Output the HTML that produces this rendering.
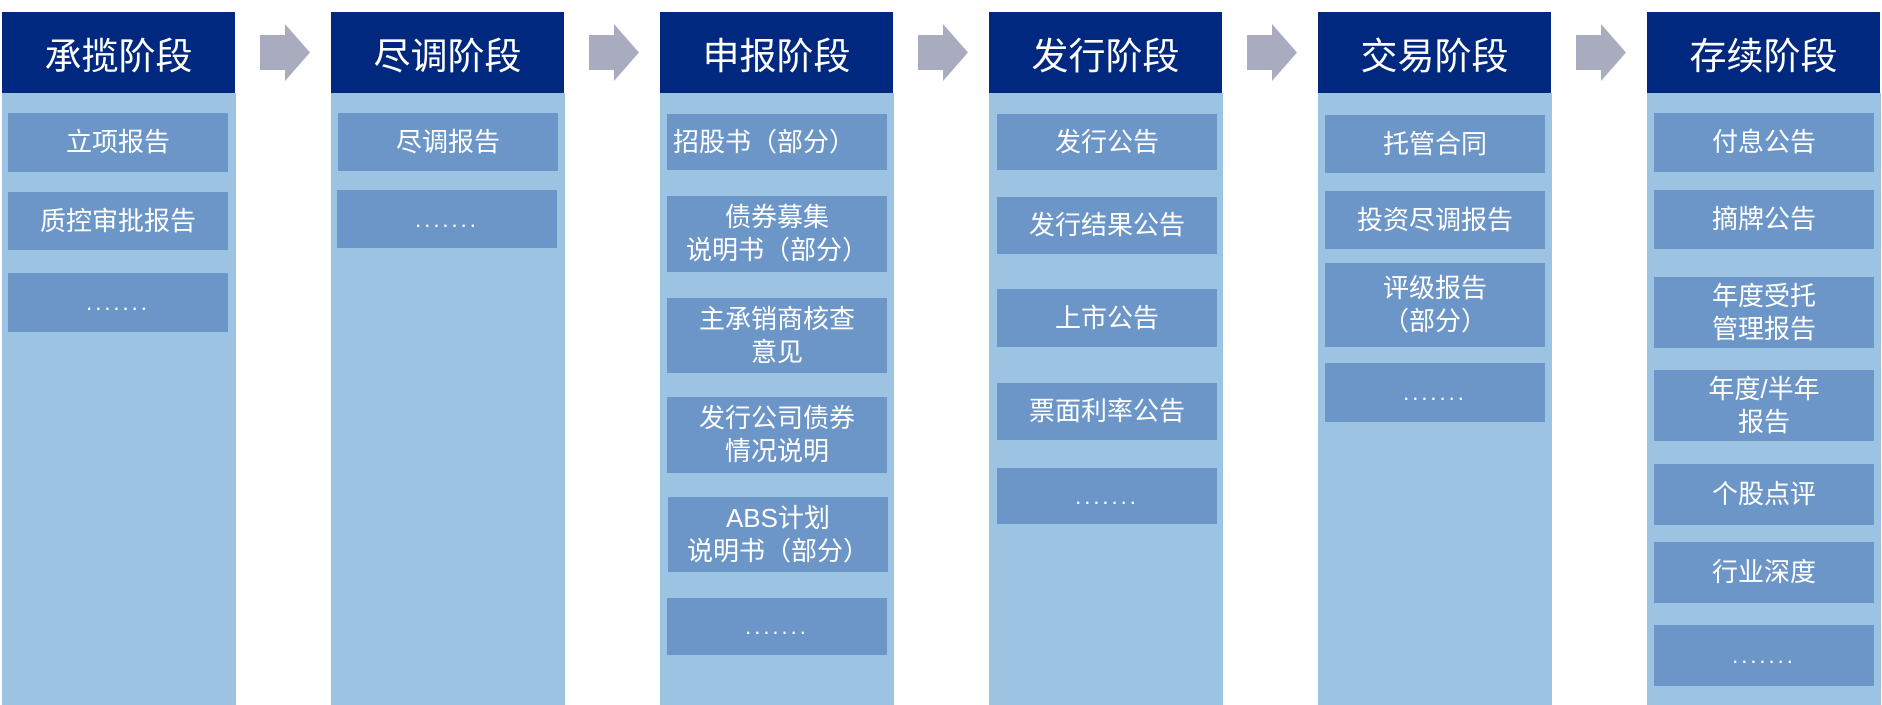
<!DOCTYPE html>
<html><head><meta charset="utf-8"><style>
body{margin:0;width:1882px;height:705px;background:#fff;position:relative;overflow:hidden;font-family:"Liberation Sans","Noto Sans CJK SC",sans-serif;}
.h{position:absolute;top:12px;height:81px;width:233px;background:#00287f;color:#fff;font-size:37px;display:flex;align-items:center;justify-content:center;}
.c{position:absolute;top:93px;height:612px;width:234px;background:#9dc3e3;}
.b{position:absolute;width:220px;background:#6d96c8;color:#fff;font-size:26px;line-height:33px;display:flex;align-items:center;justify-content:center;text-align:center;}
.d{letter-spacing:3px;font-size:22px;}
.a{position:absolute;top:24px;width:50px;height:57px;}
</style></head><body>
<div class="c" style="left:2px"></div><div class="h" style="left:2px">承揽阶段</div>
<div class="c" style="left:331px"></div><div class="h" style="left:331px">尽调阶段</div>
<div class="c" style="left:660px"></div><div class="h" style="left:660px">申报阶段</div>
<div class="c" style="left:989px"></div><div class="h" style="left:989px">发行阶段</div>
<div class="c" style="left:1318px"></div><div class="h" style="left:1318px">交易阶段</div>
<div class="c" style="left:1647px"></div><div class="h" style="left:1647px">存续阶段</div>

<svg class="a" style="left:260px" viewBox="0 0 50 57"><polygon points="0,11 25,11 25,0 50,28.5 25,57 25,46 0,46" fill="#a9abbe"/></svg>
<svg class="a" style="left:589px" viewBox="0 0 50 57"><polygon points="0,11 25,11 25,0 50,28.5 25,57 25,46 0,46" fill="#a9abbe"/></svg>
<svg class="a" style="left:918px" viewBox="0 0 50 57"><polygon points="0,11 25,11 25,0 50,28.5 25,57 25,46 0,46" fill="#a9abbe"/></svg>
<svg class="a" style="left:1247px" viewBox="0 0 50 57"><polygon points="0,11 25,11 25,0 50,28.5 25,57 25,46 0,46" fill="#a9abbe"/></svg>
<svg class="a" style="left:1576px" viewBox="0 0 50 57"><polygon points="0,11 25,11 25,0 50,28.5 25,57 25,46 0,46" fill="#a9abbe"/></svg>

<div class="b" style="left:8px;top:113px;height:59px">立项报告</div>
<div class="b" style="left:8px;top:192px;height:58px">质控审批报告</div>
<div class="b d" style="left:8px;top:273px;height:59px">.......</div>
<div class="b" style="left:338px;top:113px;height:58px">尽调报告</div>
<div class="b d" style="left:337px;top:190px;height:58px">.......</div>
<div class="b" style="left:667px;top:114px;height:56px;justify-content:flex-start;padding-left:6px;width:214px">招股书（部分）</div>
<div class="b" style="left:667px;top:196px;height:76px">债券募集<br>说明书（部分）</div>
<div class="b" style="left:667px;top:298px;height:75px">主承销商核查<br>意见</div>
<div class="b" style="left:667px;top:397px;height:76px">发行公司债券<br>情况说明</div>
<div class="b" style="left:668px;top:497px;height:75px">ABS计划<br>说明书（部分）</div>
<div class="b d" style="left:667px;top:598px;height:57px">.......</div>
<div class="b" style="left:997px;top:114px;height:56px">发行公告</div>
<div class="b" style="left:997px;top:197px;height:57px">发行结果公告</div>
<div class="b" style="left:997px;top:289px;height:58px">上市公告</div>
<div class="b" style="left:997px;top:383px;height:57px">票面利率公告</div>
<div class="b d" style="left:997px;top:468px;height:56px">.......</div>
<div class="b" style="left:1325px;top:115px;height:58px">托管合同</div>
<div class="b" style="left:1325px;top:191px;height:58px">投资尽调报告</div>
<div class="b" style="left:1325px;top:263px;height:84px">评级报告<br>（部分）</div>
<div class="b d" style="left:1325px;top:363px;height:59px">.......</div>
<div class="b" style="left:1654px;top:113px;height:59px">付息公告</div>
<div class="b" style="left:1654px;top:190px;height:59px">摘牌公告</div>
<div class="b" style="left:1654px;top:277px;height:71px">年度受托<br>管理报告</div>
<div class="b" style="left:1654px;top:370px;height:71px">年度/半年<br>报告</div>
<div class="b" style="left:1654px;top:464px;height:61px">个股点评</div>
<div class="b" style="left:1654px;top:542px;height:61px">行业深度</div>
<div class="b d" style="left:1654px;top:625px;height:61px">.......</div>
</body></html>
